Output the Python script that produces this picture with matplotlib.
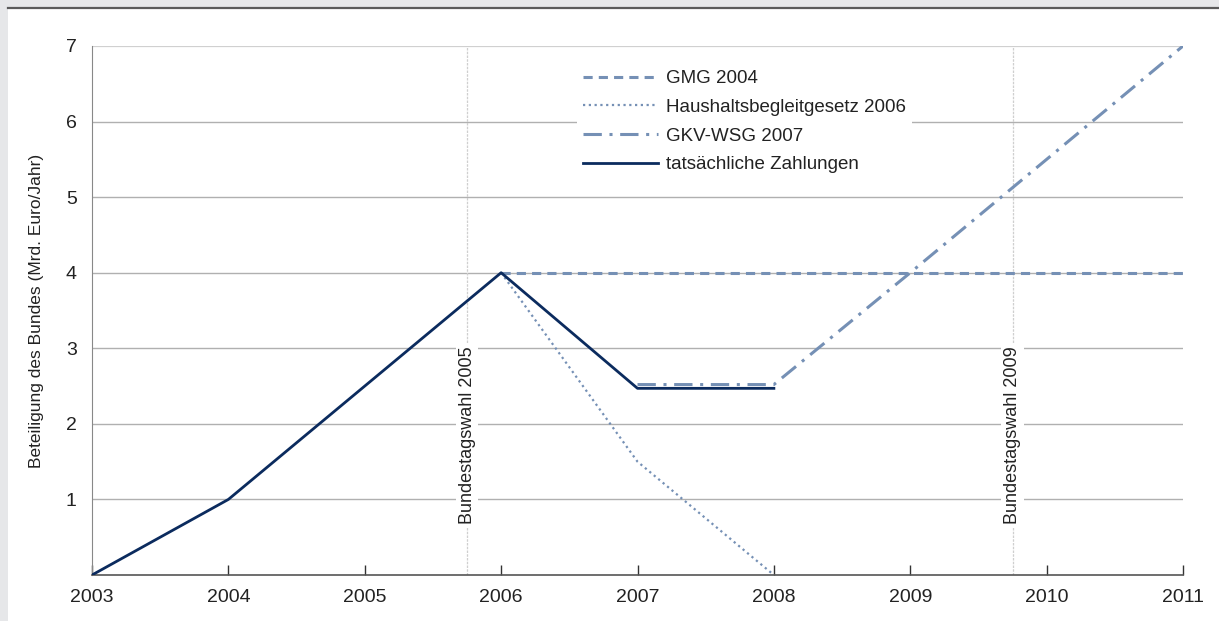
import matplotlib.pyplot as plt
from matplotlib.patches import Rectangle
from matplotlib.lines import Line2D

plt.rcParams['font.family'] = ['Liberation Sans', 'DejaVu Sans']

# Daten (Mrd. Euro/Jahr)
jahre_ist = [2003, 2004, 2005, 2006, 2007, 2008]
ist = [0, 1, 2.5, 4, 2.47, 2.47]

jahre_gmg = [2006, 2007, 2008, 2009, 2010, 2011]
gmg = [4, 4, 4, 4, 4, 4]

jahre_hbg = [2006, 2007, 2008]
hbg = [4, 1.5, 0]

jahre_gkv = [2007, 2008, 2009, 2010, 2011]
gkv = [2.52, 2.52, 4, 5.5, 7]

wahlen = [2005.75, 2009.75]
wahl_labels = ['Bundestagswahl 2005', 'Bundestagswahl 2009']

navy = '#0b2b5e'
hell = '#7590b5'

fig = plt.figure(figsize=(12.19, 6.21), dpi=100)
fig.patch.set_facecolor('#e6e7e9')
fig.add_artist(Rectangle((8 / 1219, 0), 1, 1 - 8 / 621, transform=fig.transFigure,
                         facecolor='white', edgecolor='none', zorder=-10))
fig.add_artist(Line2D([8 / 1219, 1], [1 - 7.5 / 621] * 2, transform=fig.transFigure,
                      color='#5a5a5a', lw=1.6, zorder=-5))

ax = fig.add_axes([92 / 1219, 1 - 575 / 621, (1183 - 92) / 1219, (575 - 46) / 621])
ax.set_facecolor('white')

for y in range(1, 8):
    ax.axhline(y, color='#b0b0b0' if y < 7 else '#d0d0d0', lw=1.0 if y < 7 else 1.6, zorder=1)

for x, lab in zip(wahlen, wahl_labels):
    ax.axvline(x, color='#cfcfcf', lw=0.9, ls=(0, (2, 1)), zorder=1)
    ax.text(x, 1.85, lab, rotation=90, ha='center', va='center', fontsize=13, color='#222222',
            bbox=dict(facecolor='white', edgecolor='none', pad=2), zorder=2)

ax.plot(jahre_gmg, gmg, color=hell, lw=2.2, ls=(0, (3.0, 2.0)), label='GMG 2004', zorder=3)
ax.plot(jahre_hbg, hbg, color=hell, lw=1.6, ls=(0, (1, 1.6)), label='Haushaltsbegleitgesetz 2006', zorder=3)
ax.plot(jahre_gkv, gkv, color=hell, lw=2.2, ls=(0, (6, 2.5, 1, 2.5)), label='GKV-WSG 2007', zorder=3)
ax.plot(jahre_ist, ist, color=navy, lw=2.0, label='tatsächliche Zahlungen', zorder=4)

ax.set_xlim(2003, 2011)
ax.set_ylim(0, 7)
ax.set_xticks(range(2003, 2012))
ax.set_yticks(range(1, 8))
ax.tick_params(axis='x', direction='in', length=7, width=1, color='#333333',
               labelsize=14, labelcolor='#222222', pad=10)
ax.tick_params(axis='y', length=0, labelsize=14, labelcolor='#222222', pad=11)

for s in ['top', 'right']:
    ax.spines[s].set_visible(False)
ax.spines['left'].set_color('#888888')
ax.spines['bottom'].set_color('#555555')
ax.spines['bottom'].set_linewidth(1.2)

ax.set_ylabel('Beteiligung des Bundes (Mrd. Euro/Jahr)', fontsize=12.5, color='#222222', labelpad=16)

leg = ax.legend(loc='upper left', bbox_to_anchor=((568 - 92) / 1091, 1 - 9 / 529), fontsize=13.5,
                handlelength=4.0, frameon=True, facecolor='white', edgecolor='none',
                framealpha=1, borderpad=0.3, labelspacing=0.62, handletextpad=0.45)
for t in leg.get_texts():
    t.set_color('#222222')
leg.set_zorder(5)

fig.savefig('out.png', dpi=100, facecolor=fig.get_facecolor())
